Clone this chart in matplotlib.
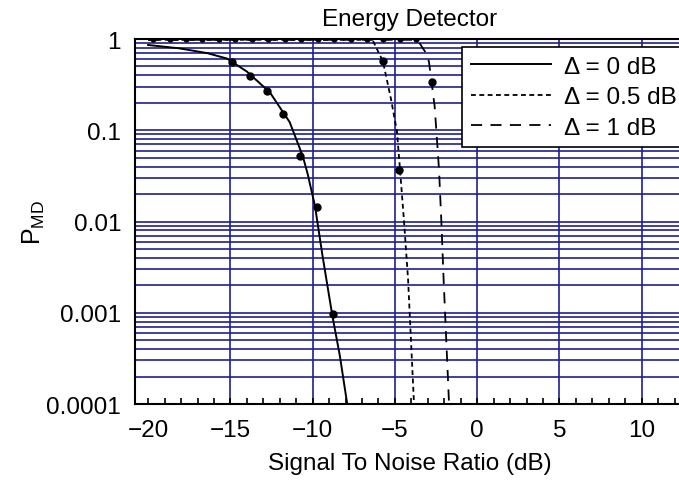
import matplotlib
matplotlib.use("Agg")
import matplotlib.pyplot as plt
from matplotlib.ticker import FixedLocator, FixedFormatter, LogLocator, NullFormatter

plt.rcParams['font.family'] = ['Liberation Sans', 'DejaVu Sans']
plt.rcParams['mathtext.fontset'] = 'custom'
plt.rcParams['mathtext.rm'] = 'Liberation Sans'
plt.rcParams['lines.scale_dashes'] = False

# analytical curves
snr_0db = [-20.0, -18.1, -16.4, -15.2, -14.0, -12.6, -11.4, -10.6, -10.3, -9.86, -9.4, -8.8, -8.35, -7.9]
pmd_0db = [0.86, 0.79, 0.70, 0.61, 0.44, 0.26, 0.123, 0.052, 0.033, 0.0148, 0.0042, 0.00092, 0.00034, 0.0001]

snr_05db = [-20.0, -6.8, -6.33, -6.1, -5.73, -5.24, -4.88, -4.69, -4.45, -4.2, -3.84]
pmd_05db = [0.98, 0.98, 0.95, 0.78, 0.57, 0.22, 0.098, 0.037, 0.0102, 0.0023, 0.0001]

snr_1db = [-20.0, -3.9, -3.58, -3.28, -3.05, -2.93, -2.59, -2.48, -2.32, -2.18, -2.04, -1.71]
pmd_1db = [0.98, 0.98, 0.95, 0.78, 0.68, 0.56, 0.186, 0.098, 0.037, 0.0102, 0.0023, 0.0001]

# simulation points
sim_x = [-14.9, -13.8, -12.8, -11.83, -10.8, -9.74, -8.77]
sim_y = [0.56, 0.39, 0.27, 0.15, 0.052, 0.0144, 0.00097]
sim05_x = [-19.7, -18.7, -17.7, -16.7, -15.7, -14.7, -13.7, -12.7, -11.7, -10.7, -9.7, -8.7, -7.7, -6.7, -5.73, -4.75]
sim05_y = [0.99, 0.99, 0.99, 0.99, 0.99, 0.99, 0.99, 0.99, 0.99, 0.99, 0.99, 0.99, 0.99, 0.99, 0.57, 0.037]
sim1_x = [-5.7, -4.7, -3.7, -2.72]
sim1_y = [0.99, 0.99, 0.99, 0.34]

x_ticks = [-20, -15, -10, -5, 0, 5, 10]
x_minor = [-19, -18, -17, -16, -14, -13, -12, -11, -9, -8, -7, -6, -4, -3, -2, -1,
           1, 2, 3, 4, 6, 7, 8, 9, 11, 12]
y_ticks = [1e-4, 1e-3, 1e-2, 1e-1, 1]
y_labels = ['0.0001', '0.001', '0.01', '0.1', '1']

grid_col = '#1f1f96'

fig = plt.figure(figsize=(6.79, 4.85), dpi=100)
ax = fig.add_axes([0.1988, 0.1649, 0.81, 0.7526])

ax.plot(snr_0db, pmd_0db, color='black', lw=1.4, label='Δ = 0 dB', zorder=3)
ax.plot(snr_05db, pmd_05db, color='black', lw=1.3, dashes=(3.5, 2.5), label='Δ = 0.5 dB', zorder=3)
ax.plot(snr_1db, pmd_1db, color='black', lw=1.3, dashes=(8, 6), label='Δ = 1 dB', zorder=3)
ax.plot(sim_x, sim_y, 'o', color='black', ms=5, zorder=4)
ax.plot(sim05_x, sim05_y, 'o', color='black', ms=3.5, zorder=4)
ax.plot(sim1_x, sim1_y, 'o', color='black', ms=3.5, zorder=4)
ax.plot(sim05_x[-2:], sim05_y[-2:], 'o', color='black', ms=5, zorder=4)
ax.plot(sim1_x[-1:], sim1_y[-1:], 'o', color='black', ms=5, zorder=4)

ax.set_yscale('log')
ax.set_ylim(1e-4, 1)
ax.set_xlim(-20.8, 12.63)

ax.xaxis.set_major_locator(FixedLocator(x_ticks))
ax.xaxis.set_minor_locator(FixedLocator(x_minor))
ax.yaxis.set_major_locator(FixedLocator(y_ticks))
ax.yaxis.set_major_formatter(FixedFormatter(y_labels))
ax.yaxis.set_minor_locator(LogLocator(base=10, subs=range(2, 10)))
ax.yaxis.set_minor_formatter(NullFormatter())

ax.tick_params(axis='x', which='both', direction='in', length=4, width=1.2,
               labelsize=17.5, pad=11, top=False)
ax.tick_params(axis='y', which='both', length=0, labelsize=17.5, pad=10)

ax.grid(True, axis='x', which='major', color=grid_col, lw=1.2)
ax.grid(True, axis='y', which='both', color=grid_col, lw=1.2)
ax.set_axisbelow(True)
ax.xaxis.get_gridlines()[0].set_visible(False)

for side in ['left', 'bottom', 'top']:
    ax.spines[side].set_linewidth(1.5)
ax.spines['right'].set_visible(False)

ax.set_title('Energy Detector', fontsize=17.5, pad=10)
ax.set_xlabel('Signal To Noise Ratio (dB)', fontsize=17.5, labelpad=8)
ax.set_ylabel(r'$\mathrm{P}_{\mathrm{MD}}$', fontsize=18)
ax.yaxis.set_label_coords(-0.16, 0.5)

leg = ax.legend(loc='upper left', bbox_to_anchor=(0.595, 0.978), borderaxespad=0,
                fontsize=17.5, handlelength=3.3, handletextpad=0.55, labelspacing=0.35,
                fancybox=False, framealpha=1, edgecolor='black', borderpad=0.35)
leg.get_frame().set_linewidth(1.2)

fig.savefig('out.png', dpi=100)
